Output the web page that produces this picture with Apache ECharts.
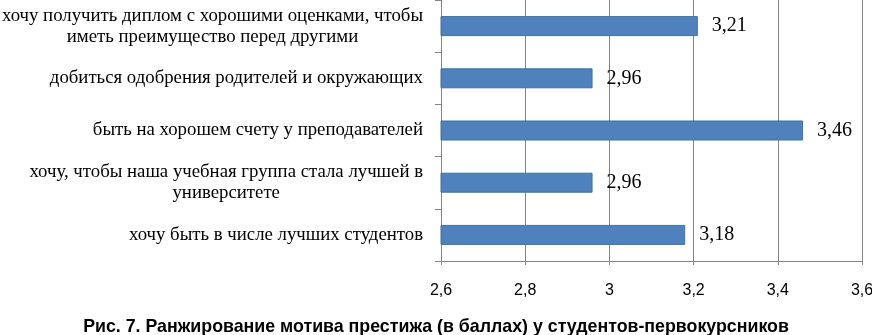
<!DOCTYPE html>
<html>
<head>
<meta charset="utf-8">
<script src="https://cdn.jsdelivr.net/npm/echarts@6/dist/echarts.min.js"></script>
<style>
html,body{margin:0;padding:0;background:#fff;}
#chart{width:872px;height:335px;}
</style>
</head>
<body>
<div id="chart"></div>
<script>
var categories = [
  'хочу получить диплом с хорошими оценками, чтобы\nиметь преимущество перед другими',
  'добиться одобрения родителей и окружающих',
  'быть на хорошем счету у преподавателей',
  'хочу, чтобы наша учебная группа стала лучшей в\nуниверситете',
  'хочу быть в числе лучших студентов'
];
var values = [3.21, 2.96, 3.46, 2.96, 3.18];
var xMin = 2.6, xMax = 3.6, xStep = 0.2;
var xTickLabels = ['2,6', '2,8', '3', '3,2', '3,4', '3,6'];
var caption = 'Рис. 7. Ранжирование мотива престижа (в баллах) у студентов-первокурсников';

var chart = echarts.init(document.getElementById('chart'), null, {renderer: 'canvas'});
var serif = '"Liberation Serif", "Times New Roman", serif';
var sans = '"Liberation Sans", Arial, sans-serif';
var axisColor = '#868686';

chart.setOption({
  animation: false,
  backgroundColor: '#fff',
  title: {
    text: caption,
    left: 'center',
    top: 313,
    padding: [5, 5, 0, 5],
    textStyle: {fontFamily: sans, fontSize: 17.8, fontWeight: 'bold', color: '#000'}
  },
  grid: {left: 441, right: 10, top: 0, bottom: 74, containLabel: false, outerBoundsMode: 'none'},
  xAxis: {
    type: 'value',
    min: xMin, max: xMax, interval: xStep,
    axisLine: {show: true, lineStyle: {color: axisColor, width: 1}},
    axisTick: {show: true, length: 4, lineStyle: {color: axisColor}},
    splitLine: {show: true, lineStyle: {color: axisColor, width: 1}},
    axisLabel: {
      margin: 22,
      fontFamily: sans, fontSize: 16, color: '#000',
      formatter: function (v) {
        var i = Math.round((v - xMin) / xStep);
        return xTickLabels[i] !== undefined ? xTickLabels[i] : String(v).replace('.', ',');
      }
    }
  },
  yAxis: {
    type: 'category',
    inverse: true,
    data: categories,
    axisLine: {show: true, lineStyle: {color: axisColor, width: 1}},
    axisTick: {show: true, length: 6, lineStyle: {color: axisColor}},
    axisLabel: {
      margin: 18,
      color: '#000',
      formatter: function (v) {
        return v.split('\n').map(function (l) { return '{c|' + l + '}'; }).join('\n');
      },
      rich: {
        c: {fontFamily: serif, fontSize: 18.8, lineHeight: 21, align: 'center', color: '#000'}
      }
    }
  },
  series: [{
    type: 'bar',
    data: values,
    barWidth: 20,
    itemStyle: {color: '#4f81bd', borderColor: '#41719c', borderWidth: 1},
    label: {
      show: true,
      position: 'right',
      distance: 14,
      fontFamily: serif,
      fontSize: 20,
      color: '#000',
      formatter: function (p) { return String(p.value).replace('.', ','); }
    }
  }]
});
</script>
</body>
</html>
